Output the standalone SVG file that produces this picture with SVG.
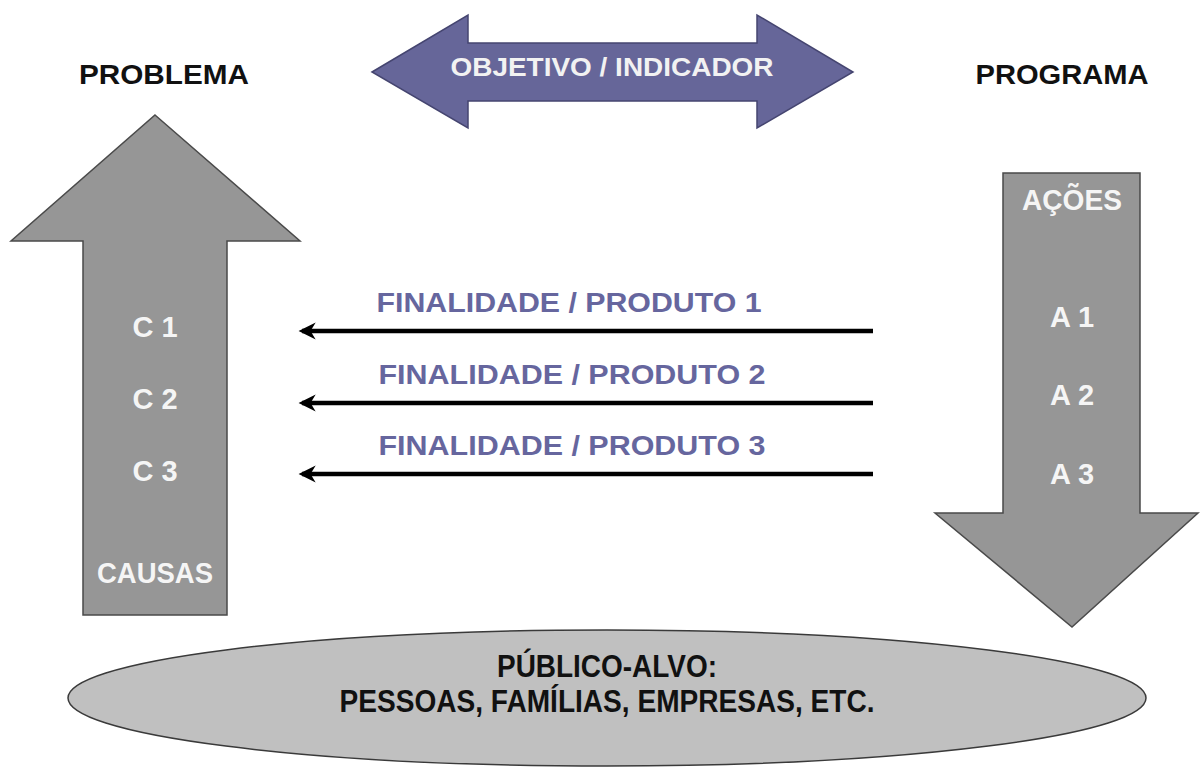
<svg xmlns="http://www.w3.org/2000/svg" width="1200" height="770" viewBox="0 0 1200 770">
<defs>
<style>
.t{font-family:"Liberation Sans",Arial,sans-serif;font-weight:bold;text-anchor:middle}
.title{font-size:28px;fill:#111}
.w{font-size:29px;fill:#f5f5f5}
.p{font-size:27px;fill:#66669e}
.e{font-size:32px;fill:#111}
.g{fill:#969696;stroke:#4a4a4a;stroke-width:1.5}
.conn{stroke:#000;stroke-width:4.5;fill:none}
</style>
<marker id="ah" viewBox="0 0 10 10" refX="8" refY="5" markerWidth="4.2" markerHeight="3.8" orient="auto" markerUnits="strokeWidth">
<path d="M10,5 L0,0 L3,5 L0,10 Z" fill="#000"/>
</marker>
</defs>
<rect width="1200" height="770" fill="#fff"/>

<g id="problema-label">
<text class="t title" x="164" y="84" textLength="170" lengthAdjust="spacingAndGlyphs">PROBLEMA</text>
</g>
<g id="programa-label">
<text class="t title" x="1062" y="84" textLength="173" lengthAdjust="spacingAndGlyphs">PROGRAMA</text>
</g>

<g id="objetivo">
<path d="M372,72 L468,15 L468,43 L757,43 L757,15 L853,72 L757,128 L757,101 L468,101 L468,128 Z" fill="#666699" stroke="#454570" stroke-width="1.5"/>
<text class="t" x="612" y="76" font-size="26" fill="#f2f2f2" textLength="323" lengthAdjust="spacingAndGlyphs">OBJETIVO / INDICADOR</text>
</g>

<g id="causas">
<path class="g" d="M155,115 L300,241 L227,241 L227,615 L83,615 L83,241 L11,241 Z"/>
<text class="t w" x="155" y="337">C 1</text>
<text class="t w" x="155" y="409">C 2</text>
<text class="t w" x="155" y="481">C 3</text>
<text class="t w" x="155" y="583" textLength="116" lengthAdjust="spacingAndGlyphs">CAUSAS</text>
</g>

<g id="acoes">
<path class="g" d="M1003,173 L1140,173 L1140,513 L1198,513 L1072,627 L935,513 L1003,513 Z"/>
<text class="t w" x="1072" y="210" textLength="100" lengthAdjust="spacingAndGlyphs">AÇÕES</text>
<text class="t w" x="1072" y="327">A 1</text>
<text class="t w" x="1072" y="405">A 2</text>
<text class="t w" x="1072" y="484">A 3</text>
</g>

<g id="publico-alvo">
<ellipse cx="607" cy="698" rx="539" ry="68" fill="#c0c0c0" stroke="#3a3a3a" stroke-width="1.5"/>
<text class="t e" x="607" y="677" textLength="220" lengthAdjust="spacingAndGlyphs">PÚBLICO-ALVO:</text>
<text class="t e" x="607" y="712" textLength="535" lengthAdjust="spacingAndGlyphs">PESSOAS, FAMÍLIAS, EMPRESAS, ETC.</text>
</g>

<g id="connectors">
<line class="conn" x1="873" y1="331" x2="302" y2="331" marker-end="url(#ah)"/>
<line class="conn" x1="873" y1="403" x2="302" y2="403" marker-end="url(#ah)"/>
<line class="conn" x1="873" y1="474" x2="302" y2="474" marker-end="url(#ah)"/>
<text class="t p" x="569" y="312" textLength="385" lengthAdjust="spacingAndGlyphs">FINALIDADE / PRODUTO 1</text>
<text class="t p" x="572" y="384" textLength="387" lengthAdjust="spacingAndGlyphs">FINALIDADE / PRODUTO 2</text>
<text class="t p" x="572" y="455" textLength="387" lengthAdjust="spacingAndGlyphs">FINALIDADE / PRODUTO 3</text>
</g>
</svg>
